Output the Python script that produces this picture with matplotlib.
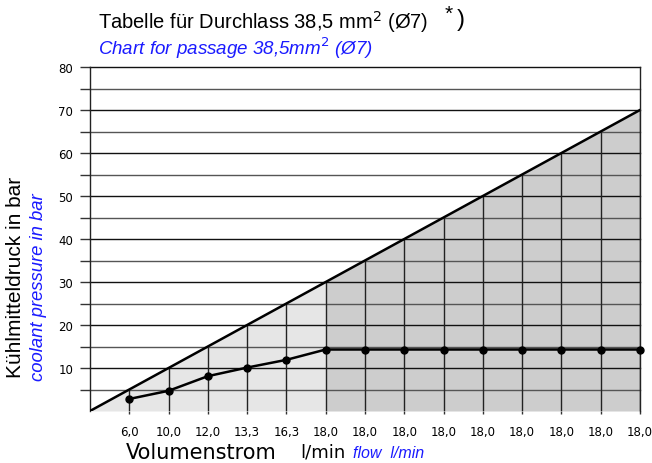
import matplotlib
matplotlib.use("Agg")
import matplotlib.pyplot as plt
import numpy as np

# data
flow_labels = ["6,0", "10,0", "12,0", "13,3", "16,3", "18,0", "18,0", "18,0",
               "18,0", "18,0", "18,0", "18,0", "18,0", "18,0"]
pressure = [2.8, 4.7, 8.1, 10.1, 11.9, 14.3, 14.3, 14.3, 14.3, 14.3, 14.3, 14.3, 14.3, 14.3]
limit_pressure = [5, 10, 15, 20, 25, 30, 35, 40, 45, 50, 55, 60, 65, 70]
origin_pressure = 0
y_ticks = [10, 20, 30, 40, 50, 60, 70, 80]
grid_levels = [5, 10, 15, 20, 25, 30, 35, 40, 45, 50, 55, 60, 65, 70, 75, 80]
light_end = 5   # index where the darker zone starts

sans = ['Liberation Sans', 'DejaVu Sans']
blue = '#1a1aff'

fig = plt.figure(figsize=(6.52, 4.64), dpi=100)
ax = fig.add_axes([90 / 652, 52 / 464, 550 / 652, 344 / 464])

pos = np.arange(len(flow_labels))
diag_x = np.concatenate([[-1], pos])
diag_y = np.concatenate([[origin_pressure], limit_pressure])

# shaded zones under the limit line
m1 = diag_x <= light_end
ax.fill_between(diag_x[m1], 0, diag_y[m1], color='#e6e6e6', lw=0, zorder=1)
m2 = diag_x >= light_end
ax.fill_between(diag_x[m2], 0, diag_y[m2], color='#cdcdcd', lw=0, zorder=1)

# horizontal grid lines
for g in grid_levels:
    c = '#111111' if g % 10 == 0 else '#555555'
    ax.axhline(g, color=c, lw=1.0, zorder=2, clip_on=False)

# vertical lines up to the limit
ax.vlines(pos, 0, limit_pressure, color='#222222', lw=1.0, zorder=2)

ax.plot(diag_x, diag_y, color='black', lw=1.8, zorder=4)
ax.plot(pos, pressure, color='black', lw=1.8, marker='o', ms=5, zorder=5, clip_on=False)

ax.set_xlim(-1, len(flow_labels) - 1)
ax.set_ylim(0, 80)

for s in ['top', 'bottom']:
    ax.spines[s].set_visible(False)
for s in ['left', 'right']:
    ax.spines[s].set_color('#222222')
    ax.spines[s].set_linewidth(1.0)

ax.set_yticks(grid_levels)
ax.set_yticklabels([str(g) if g in y_ticks else '' for g in grid_levels])
ax.tick_params(axis='y', length=7, width=1.0, color='#333333', pad=5)
ax.set_xticks(pos)
ax.set_xticklabels(flow_labels)
ax.tick_params(axis='x', length=2, width=1.0, color='#333333', pad=8)
for t in ax.get_yticklabels() + ax.get_xticklabels():
    t.set_family('DejaVu Sans')
    t.set_fontsize(8.5)

# titles
fig.text(98 / 652, 1 - 22 / 464, r"Tabelle für Durchlass 38,5 mm$^2$ (Ø7)",
         fontsize=14.5, family=sans, va='center', ha='left')
fig.text(445 / 652, 1 - 14 / 464, "*", fontsize=15, family=sans, va='center', ha='left')
fig.text(457 / 652, 1 - 20 / 464, ")", fontsize=17, family=sans, va='center', ha='left')
fig.text(98 / 652, 1 - 48 / 464, r"Chart for passage 38,5mm$^2$ (Ø7)",
         fontsize=13.5, family=sans, style='italic', color=blue, va='center', ha='left')

fig.text(16 / 652, 1 - 277 / 464, "Kühlmitteldruck in bar", rotation=90,
         fontsize=15, family=sans, va='center', ha='center')
fig.text(39 / 652, 1 - 287 / 464, "coolant pressure in bar", rotation=90,
         fontsize=13.3, family=sans, style='italic', color=blue, va='center', ha='center')

fig.text(126 / 652, 1 - 453 / 464, "Volumenstrom", fontsize=15, family='DejaVu Sans',
         va='center', ha='left')
fig.text(300 / 652, 1 - 453 / 464, "l/min", fontsize=13, family='DejaVu Sans',
         va='center', ha='left')
fig.text(353 / 652, 1 - 454 / 464, "flow  l/min", fontsize=11.5, family=sans,
         style='italic', color=blue, va='center', ha='left')

fig.savefig("out.png", dpi=100)
